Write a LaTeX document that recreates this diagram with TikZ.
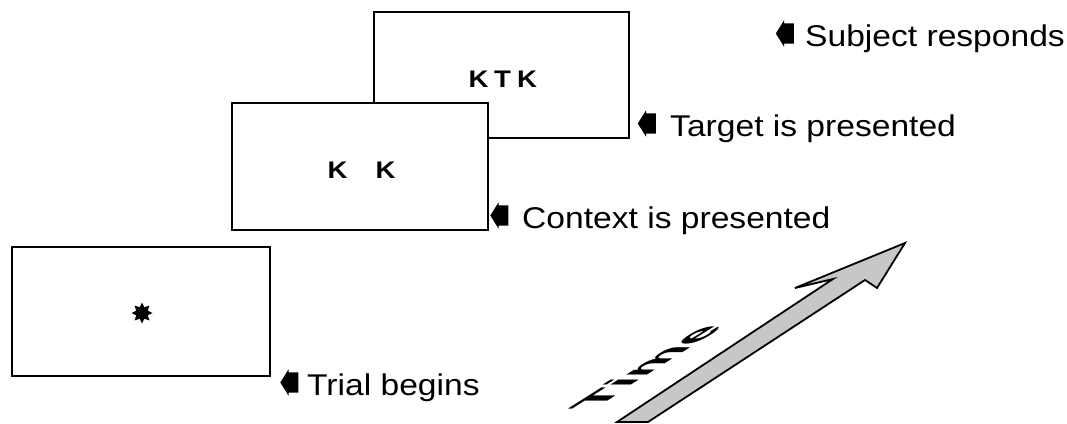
\documentclass[tikz,border=0pt]{standalone}
\usepackage{fontspec}
\setmainfont{Liberation Sans}
\usetikzlibrary{shapes.arrows,shapes.geometric}
\begin{document}
\begin{tikzpicture}[x=1pt,y=-1pt,
  screen/.style={draw=black, line width=1.4pt, fill=white, inner sep=0pt},
  lbl/.style={anchor=base west, inner sep=0pt, font=\fontsize{30}{36}\selectfont},
  letter/.style={anchor=base, inner sep=0pt, font=\fontsize{24}{28}\selectfont\bfseries},
  pointer/.style={single arrow, fill=black, draw=none, shape border rotate=180,
    minimum height=18pt, single arrow head extend=3pt, inner sep=0pt, inner ysep=10pt,
    single arrow tip angle=116},
  timearrow/.style={draw=black, line width=1.8pt, line join=miter, fill=black!22}
]
\useasboundingbox (0,0) rectangle (1067,423);

% screens
\node[screen, minimum width=255pt, minimum height=126pt] (target) at (501.5,75) {};
\node[screen, minimum width=256pt, minimum height=127pt] (context) at (360,166.5) {};
\node[screen, minimum width=258pt, minimum height=129pt] (trial) at (141,311.5) {};

% screen contents
\node[letter] (k1) at (478.5,87) {\scalebox{1.15}[1]{K}};
\node[letter] (t1) at (502.5,87) {\scalebox{1.15}[1]{T}};
\node[letter] (k2) at (527,87) {\scalebox{1.15}[1]{K}};
\node[letter] (k3) at (337.5,178) {\scalebox{1.15}[1]{K}};
\node[letter] (k4) at (385.5,178) {\scalebox{1.15}[1]{K}};
\node[star, star points=8, star point ratio=1.7, fill=black, inner sep=0pt, minimum size=21pt] (fix) at (142,313) {};

% labels
\node[pointer] (p1) at (292.5,382.5) {};
\node[lbl] (l1) at (307,395) {\scalebox{1.12}[1]{Trial begins}};
\node[pointer] (p2) at (502.5,215.5) {};
\node[lbl] (l2) at (522,228) {\scalebox{1.12}[1]{Context is presented}};
\node[pointer] (p3) at (650,123.5) {};
\node[lbl] (l3) at (670,136) {\scalebox{1.12}[1]{Target is presented}};
\node[pointer] (p4) at (788,33.5) {};
\node[lbl] (l4) at (805,46) {\scalebox{1.12}[1]{Subject responds}};

% time arrow
\draw[timearrow] (617,422) -- (833,279) -- (795,288) -- (905,243) -- (877,288) -- (865,280) -- (648,422) -- cycle;
\begin{scope}[shift={(593,410)}, cm={5.7,3.6,-3.9,0,(0,0)}]
\node[transform shape, anchor=base west, inner sep=0pt, font=\fontsize{10}{12}\selectfont\bfseries] (time) at (0,0) {Time};
\end{scope}
\end{tikzpicture}
\end{document}
